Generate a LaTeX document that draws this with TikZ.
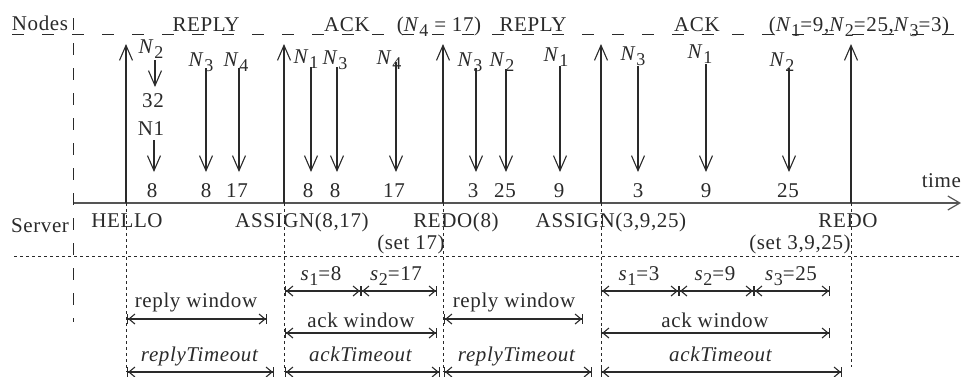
\documentclass[tikz,border=0pt]{standalone}
\usepackage{fontspec}
\setmainfont{Liberation Serif}[LetterSpace=3]
\usetikzlibrary{arrows.meta}
\definecolor{ink}{HTML}{2A2A2A}
\definecolor{axisgray}{HTML}{555555}
\newcommand{\mainsz}{\fontsize{21}{24}\selectfont}
\newcommand{\Sb}[2]{\textit{#1}\raisebox{-5pt}{\fontsize{18}{18}\selectfont #2}}
\begin{document}
\begin{tikzpicture}[x=1pt,y=-1pt,
  every node/.style={inner sep=0pt,outer sep=0pt,text=ink,font=\mainsz},
  lbl/.style={anchor=base},
  msg/.style={draw=ink,line width=1.1pt,-{Straight Barb[length=15pt,width=13pt,line width=1.1pt]}},
  axisline/.style={draw=axisgray,line width=1.8pt,-{Straight Barb[length=12pt,width=14pt,line width=1.2pt]}},
  topdash/.style={draw=ink,line width=1pt,dash pattern=on 12pt off 18pt},
  vdash/.style={draw=ink,line width=1pt,dash pattern=on 12pt off 13pt},
  dotline/.style={draw=ink,line width=1pt,dash pattern=on 3pt off 3pt},
  span/.style={draw=ink,line width=1.1pt,
    {Bar[width=10pt,line width=1.1pt]Straight Barb[length=6pt,width=10pt,line width=1.1pt]}-{Straight Barb[length=6pt,width=10pt,line width=1.1pt]Bar[width=10pt,line width=1.1pt]}}
]
\useasboundingbox (0,0) rectangle (962,376);

% frame lines
\coordinate (dl) at (12,34);   \coordinate (dr) at (962,34);
\coordinate (vt) at (73,18);   \coordinate (vb) at (73,322);
\coordinate (hl) at (14,256);  \coordinate (hr) at (962,256);
\coordinate (ax0) at (74,203); \coordinate (ax1) at (961,203);
\draw[topdash] (dl) -- (dr);
\draw[vdash] (vt) -- (vb);
\draw[dotline] (hl) -- (hr);
\draw[axisline] (ax0) -- (ax1);

\node[lbl] (nodes) at (40,30) {Nodes};
\node[lbl] (server) at (40,232) {Server};
\node[anchor=base east] (time) at (961,187) {time};

% top labels
\node[lbl] (tReply1) at (206,31) {REPLY};
\node[lbl] (tAck1) at (347,31) {ACK};
\node[lbl] (tN4) at (439,31) {(\Sb{N}{4} = 17)};
\node[lbl] (tReply2) at (533,31) {REPLY};
\node[lbl] (tAck2) at (697,31) {ACK};
\node[lbl] (tFinal) at (859,31) {(\Sb{N}{1}=9,\Sb{N}{2}=25,\Sb{N}{3}=3)};

% server broadcasts (up arrows) and dotted drop lines
\foreach \i/\x/\yb in {1/126/372,2/284/372,3/443/372,4/601/372,5/851/367}{
  \coordinate (b\i) at (\x,203);
  \coordinate (bt\i) at (\x,44);
  \coordinate (bd\i) at (\x,\yb);
  \draw[dotline] (b\i) -- (bd\i);
  \draw[msg] (b\i) -- (bt\i);
}

% server labels
\node[lbl] (sHello) at (127,227) {HELLO};
\node[lbl] (sAssign1) at (302,227) {ASSIGN(8,17)};
\node[lbl] (sRedo1) at (456,227) {REDO(8)};
\node[lbl] (sSet1) at (411,249) {(set 17)};
\node[lbl] (sAssign2) at (611,227) {ASSIGN(3,9,25)};
\node[lbl] (sRedo2) at (848,227) {REDO};
\node[lbl] (sSet2) at (800,249) {(set 3,9,25)};

% first node: N2 -> 32 , N1 -> 8
\node[lbl] (nA) at (151,53) {\Sb{N}{2}};
\coordinate (sA) at (155,60); \coordinate (eA) at (155,87);
\draw[msg] (sA) -- (eA);
\node[lbl] (v32) at (153,107) {32};
\node[lbl] (vN1) at (151,135) {N1};
\coordinate (sB) at (154,140); \coordinate (eB) at (154,172);
\draw[msg] (sB) -- (eB);
\node[lbl] (vB) at (152,197) {8};

% other node messages
\foreach \i/\sx/\st/\k/\lx/\ly/\num/\nx in {
  1/206/68/3/201/66/8/206,
  2/239/68/4/236/66/17/237,
  3/311/67/1/306/63/8/308,
  4/337/67/3/335/64/8/335,
  5/396/62/4/389/64/17/394,
  6/476/68/3/470/66/3/473,
  7/506/69/2/502/66/25/505,
  8/560/66/1/556/61/9/559,
  9/638/66/3/633/60/3/638,
  10/706/64/1/700/58/9/706,
  11/789/68/2/782/66/25/788}{
  \node[lbl] (n\i) at (\lx,\ly) {\Sb{N}{\k}};
  \coordinate (ms\i) at (\sx,\st);
  \coordinate (me\i) at (\sx,172);
  \draw[msg] (ms\i) -- (me\i);
  \node[lbl] (v\i) at (\nx,197) {\num};
}

% bottom intervals
\coordinate (p126a) at (127,319); \coordinate (p267) at (267,319);
\coordinate (p127t) at (127,372); \coordinate (p274) at (274,372);
\coordinate (q285s) at (285,291); \coordinate (q361) at (361,291); \coordinate (q437s) at (437,291);
\coordinate (q285w) at (285,333); \coordinate (q437w) at (437,333);
\coordinate (q285t) at (285,372); \coordinate (q440) at (440,372);
\coordinate (r444w) at (444,319); \coordinate (r583) at (583,319);
\coordinate (r444t) at (444,372); \coordinate (r592) at (592,372);
\coordinate (u601s) at (601,291); \coordinate (u679) at (679,291); \coordinate (u754) at (754,291); \coordinate (u830s) at (830,291);
\coordinate (u601w) at (601,333); \coordinate (u830w) at (830,333);
\coordinate (u601t) at (601,372); \coordinate (u842) at (842,372);

\draw[span] (p126a) -- (p267);
\draw[span] (p127t) -- (p274);
\draw[span] (q285s) -- (q361);
\draw[span] (q361) -- (q437s);
\draw[span] (q285w) -- (q437w);
\draw[span] (q285t) -- (q440);
\draw[span] (r444w) -- (r583);
\draw[span] (r444t) -- (r592);
\draw[span] (u601s) -- (u679);
\draw[span] (u679) -- (u754);
\draw[span] (u754) -- (u830s);
\draw[span] (u601w) -- (u830w);
\draw[span] (u601t) -- (u842);

\node[lbl] (wReply1) at (196,307) {reply window};
\node[lbl] (tReplyT1) at (200,361) {\textit{replyTimeout}};
\node[lbl] (s1a) at (321,280) {\Sb{s}{1}=8};
\node[lbl] (s2a) at (396,280) {\Sb{s}{2}=17};
\node[lbl] (wAck1) at (361,327) {ack window};
\node[lbl] (tAckT1) at (361,361) {\textit{ackTimeout}};
\node[lbl] (wReply2) at (514,307) {reply window};
\node[lbl] (tReplyT2) at (517,361) {\textit{replyTimeout}};
\node[lbl] (s1b) at (639,280) {\Sb{s}{1}=3};
\node[lbl] (s2b) at (715,280) {\Sb{s}{2}=9};
\node[lbl] (s3b) at (791,280) {\Sb{s}{3}=25};
\node[lbl] (wAck2) at (715,327) {ack window};
\node[lbl] (tAckT2) at (721,361) {\textit{ackTimeout}};
\end{tikzpicture}
\end{document}
